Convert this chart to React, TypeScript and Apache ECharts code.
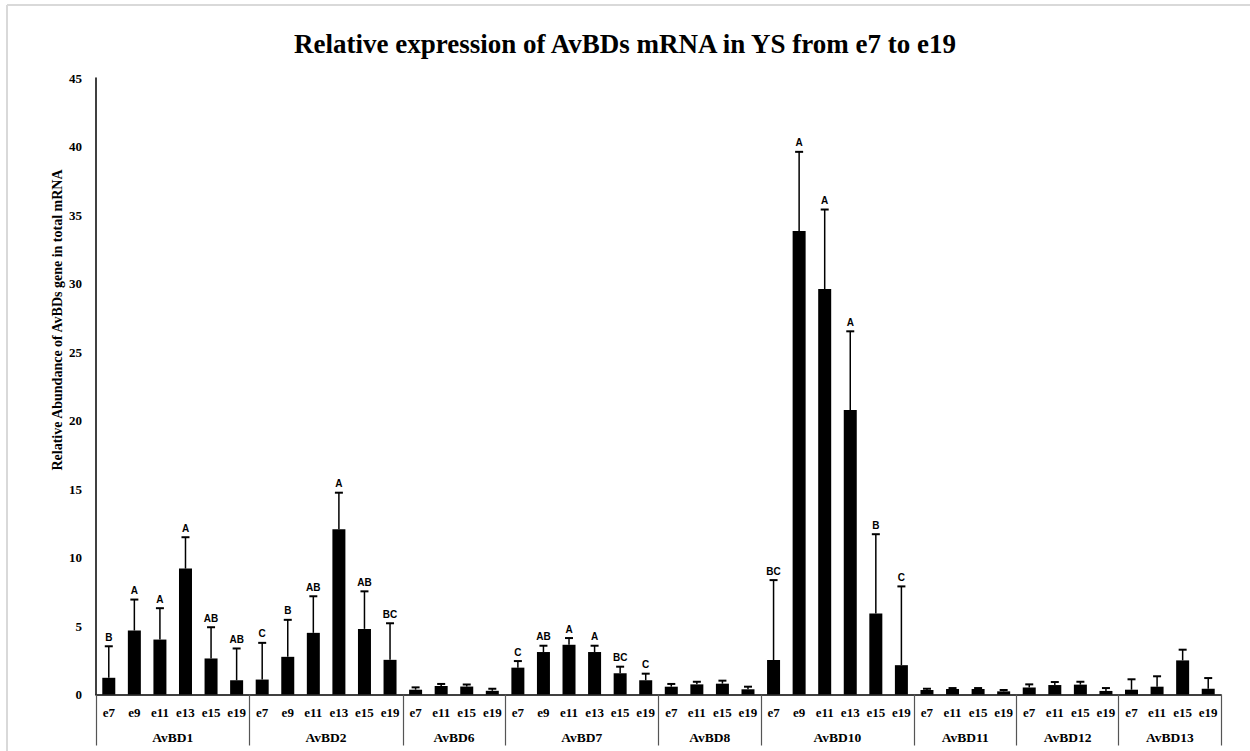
import React, { useEffect, useRef } from 'react';
import * as echarts from 'echarts';

const genes = ['AvBD1', 'AvBD2', 'AvBD6', 'AvBD7', 'AvBD8', 'AvBD10', 'AvBD11', 'AvBD12', 'AvBD13'];
const groupSizes = [6, 6, 4, 6, 4, 6, 4, 4, 4];

const stageLabels = [
  'e7', 'e9', 'e11', 'e13', 'e15', 'e19',
  'e7', 'e9', 'e11', 'e13', 'e15', 'e19',
  'e7', 'e11', 'e15', 'e19',
  'e7', 'e9', 'e11', 'e13', 'e15', 'e19',
  'e7', 'e11', 'e15', 'e19',
  'e7', 'e9', 'e11', 'e13', 'e15', 'e19',
  'e7', 'e11', 'e15', 'e19',
  'e7', 'e11', 'e15', 'e19',
  'e7', 'e11', 'e15', 'e19',
];

const means = [
  1.22, 4.67, 4.01, 9.19, 2.63, 1.04,
  1.09, 2.75, 4.5, 12.06, 4.79, 2.53,
  0.35, 0.62, 0.58, 0.27,
  1.96, 3.1, 3.63, 3.1, 1.55, 1.04,
  0.57, 0.74, 0.79, 0.38,
  2.52, 33.84, 29.59, 20.76, 5.92, 2.14,
  0.33, 0.4, 0.4, 0.23,
  0.52, 0.69, 0.72, 0.26,
  0.35, 0.57, 2.49, 0.42,
];

const errorTops = [
  3.52, 6.93, 6.3, 11.48, 4.91, 3.36,
  3.77, 5.45, 7.17, 14.73, 7.53, 5.2,
  0.52, 0.77, 0.73, 0.42,
  2.44, 3.56, 4.12, 3.56, 2.03, 1.52,
  0.77, 0.93, 1.01, 0.57,
  8.35, 39.61, 35.4, 26.51, 11.7, 7.89,
  0.42, 0.47, 0.47, 0.33,
  0.74, 0.91, 0.93, 0.47,
  1.11, 1.33, 3.27, 1.2,
];

const letters = [
  'B', 'A', 'A', 'A', 'AB', 'AB',
  'C', 'B', 'AB', 'A', 'AB', 'BC',
  '', '', '', '',
  'C', 'AB', 'A', 'A', 'BC', 'C',
  '', '', '', '',
  'BC', 'A', 'A', 'A', 'B', 'C',
  '', '', '', '',
  '', '', '', '',
  '', '', '', '',
];

const yTicks = { min: 0, max: 45, interval: 5 };

const titleText = 'Relative expression of AvBDs mRNA in YS from e7 to e19';
const yName = 'Relative Abundance of AvBDs gene in total mRNA';

const SERIF = '"Liberation Serif", "Times New Roman", serif';

export default function App() {
  const ref = useRef<HTMLDivElement>(null);

  useEffect(() => {
    document.body.style.margin = '0';
    if (!ref.current) return;
    const chart = echarts.init(ref.current, undefined, { renderer: 'svg' });

    // half-bar resolution axis for group labels and separators
    const halfLabels: string[] = [];
    const boundaries = new Set<number>();
    let pos = 0;
    boundaries.add(0);
    genes.forEach((g, i) => {
      const n = groupSizes[i];
      for (let k = 0; k < 2 * n; k++) halfLabels.push(k === n ? g : '');
      pos += 2 * n;
      boundaries.add(pos);
    });
    halfLabels.push('');
    const halfData = halfLabels.map((_, i) => 'h' + i);
    const barCats = stageLabels.map((_, i) => 'c' + i);

    const option: any = {
      animation: false,
      backgroundColor: '#fff',
      title: {
        text: titleText,
        left: 'center',
        top: 25,
        textStyle: { fontFamily: SERIF, fontWeight: 'bold', fontSize: 27, color: '#000' },
      },
      grid: { left: 96, right: 29, top: 78, bottom: 56.5, containLabel: false },
      xAxis: [
        {
          type: 'category',
          data: barCats,
          position: 'bottom',
          axisLine: { show: true, lineStyle: { color: '#000', width: 1.5 } },
          axisTick: { show: false },
          axisLabel: {
            interval: 0,
            margin: 11,
            fontFamily: SERIF,
            fontWeight: 'bold',
            fontSize: 13,
            color: '#000',
            formatter: (_v: string, i: number) => stageLabels[i],
          },
          splitLine: { show: false },
        },
        {
          type: 'category',
          data: halfData,
          boundaryGap: false,
          position: 'bottom',
          offset: 0,
          axisLine: { show: false },
          axisTick: {
            show: true,
            interval: (i: number) => boundaries.has(i),
            length: 51,
            lineStyle: { color: '#555', width: 1.2 },
          },
          axisLabel: {
            interval: 0,
            margin: 36,
            fontFamily: SERIF,
            fontWeight: 'bold',
            fontSize: 13.5,
            color: '#000',
            formatter: (_v: string, i: number) => halfLabels[i],
          },
          splitLine: { show: false },
        },
      ],
      yAxis: {
        type: 'value',
        min: yTicks.min,
        max: yTicks.max,
        interval: yTicks.interval,
        axisLine: { show: true, lineStyle: { color: '#000', width: 1.5 } },
        axisTick: { show: false },
        splitLine: { show: false },
        axisLabel: { margin: 14, fontFamily: SERIF, fontWeight: 'bold', fontSize: 13, color: '#000' },
      },
      graphic: [
        {
          type: 'line',
          shape: { x1: 7, y1: 5, x2: 1250, y2: 5 },
          style: { stroke: '#d9d9d9', lineWidth: 2 },
          silent: true,
        },
        {
          type: 'line',
          shape: { x1: 7, y1: 5, x2: 7, y2: 751 },
          style: { stroke: '#d9d9d9', lineWidth: 2 },
          silent: true,
        },
        {
          type: 'text',
          x: 57,
          y: 320,
          rotation: Math.PI / 2,
          style: {
            text: yName,
            fill: '#000',
            font: 'bold 14px "Liberation Serif"',
            textAlign: 'center',
            textVerticalAlign: 'middle',
            align: 'center',
            verticalAlign: 'middle',
          },
        },
      ],
      series: [
        {
          type: 'bar',
          xAxisIndex: 0,
          data: means,
          barWidth: 13,
          itemStyle: { color: '#000' },
          z: 2,
        },
        {
          type: 'custom',
          xAxisIndex: 0,
          data: means.map((m, i) => [i, m, errorTops[i]]),
          encode: { x: 0, y: 2 },
          z: 3,
          renderItem: (params: any, api: any) => {
            const idx = api.value(0);
            const m = api.value(1);
            const u = api.value(2);
            const pTop = api.coord([idx, u]);
            const pMid = api.coord([idx, m]);
            const half = 4;
            const children: any[] = [
              {
                type: 'line',
                shape: { x1: pTop[0], y1: pMid[1], x2: pTop[0], y2: pTop[1] },
                style: { stroke: '#000', lineWidth: 1.5 },
              },
              {
                type: 'line',
                shape: { x1: pTop[0] - half, y1: pTop[1], x2: pTop[0] + half, y2: pTop[1] },
                style: { stroke: '#000', lineWidth: 2 },
              },
            ];
            const letter = letters[params.dataIndex];
            if (letter) {
              children.push({
                type: 'text',
                x: pTop[0],
                y: pTop[1] - 9,
                style: {
                  text: letter,
                  fill: '#000',
                  fontSize: 10,
                  fontWeight: 'bold',
                  fontFamily: '"Liberation Sans", Arial, sans-serif',
                  align: 'center',
                  verticalAlign: 'middle',
                  textAlign: 'center',
                  textVerticalAlign: 'middle',
                },
              });
            }
            return { type: 'group', children };
          },
        },
      ],
    };

    chart.setOption(option);
    return () => chart.dispose();
  }, []);

  return <div ref={ref} style={{ width: 1250, height: 751 }} />;
}
